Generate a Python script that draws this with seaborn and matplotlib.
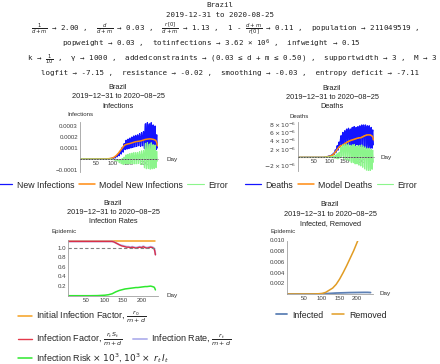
import numpy as np
import pandas as pd
import seaborn as sns
import matplotlib.pyplot as plt
from matplotlib.ticker import FixedLocator, FixedFormatter, MultipleLocator

sns.set_style("white")
plt.rcParams['font.family'] = ['Liberation Sans', 'DejaVu Sans']
plt.rcParams['mathtext.fontset'] = 'dejavusans'

country = "Brazil"
date_span = "2019-12-31 to 2020-08-25"
panel_dates = "2019\u221212\u221231 to 2020\u221208\u221225"

# daily series start at day 60 (everything before is zero)
first_day = 60
last_day = 240

# new infections per day, in 1e-6 of population
new_infections = [
    0, 0, 0, 0, 0, 0, 0, 0, 0, 0,
    0, 0, 0, 0, 0, 0, 0, 0, 1, 1,
    1, 1, 1, 2, 2, 2, 1, 2, 2, 3,
    3, 3, 4, 5, 5, 4, 3, 5, 6, 7,
    8, 9, 7, 5, 9, 11, 13, 14, 12, 9,
    17, 21, 24, 29, 25, 19, 26, 34, 40, 45,
    48, 33, 30, 52, 62, 70, 72, 57, 45, 80,
    95, 105, 100, 70, 62, 110, 130, 140, 130, 95,
    85, 135, 160, 170, 150, 110, 90, 160, 175, 180,
    160, 115, 95, 165, 185, 190, 165, 120, 100, 170,
    180, 200, 175, 125, 105, 175, 195, 210, 180, 130,
    110, 180, 200, 215, 190, 135, 115, 190, 205, 220,
    190, 140, 120, 195, 210, 230, 195, 140, 115, 200,
    215, 240, 200, 145, 120, 205, 225, 250, 210, 145,
    95, 230, 290, 320, 260, 115, 90, 240, 310, 330,
    270, 125, 95, 250, 300, 320, 260, 115, 90, 230,
    300, 330, 250, 110, 90, 220, 300, 310, 240, 110,
    90, 220, 280, 300, 220, 100, 85, 180, 220, 160,
    100,
]
model_infections = [
    0, 0, 0, 0, 0, 0, 0, 0, 0, 0,
    0, 0, 0, 0, 0, 0, 1, 1, 1, 1,
    1, 1, 1, 1, 2, 2, 2, 2, 2, 3,
    3, 3, 4, 4, 5, 5, 6, 6, 7, 8,
    9, 10, 11, 12, 13, 15, 17, 19, 21, 23,
    26, 28, 30, 33, 36, 39, 42, 45, 49, 52,
    56, 60, 64, 68, 72, 76, 80, 84, 88, 92,
    96, 100, 104, 108, 112, 116, 119, 122, 125, 127,
    129, 130, 131, 132, 133, 134, 135, 136, 137, 137,
    138, 138, 139, 139, 140, 140, 141, 142, 143, 144,
    145, 146, 147, 148, 149, 150, 151, 152, 153, 154,
    155, 156, 157, 157, 158, 158, 159, 159, 160, 160,
    160, 161, 161, 162, 162, 163, 163, 164, 164, 165,
    165, 166, 167, 168, 169, 170, 171, 172, 173, 174,
    175, 176, 177, 178, 178, 179, 179, 180, 180, 181,
    181, 181, 182, 182, 182, 183, 183, 183, 183, 182,
    182, 182, 181, 181, 180, 180, 179, 179, 178, 178,
    177, 176, 175, 173, 171, 168, 164, 158, 150, 140,
    120,
]
# deaths per day, in 1e-7 of population
deaths = [
    0, 0, 0, 0, 0, 0, 0, 0, 0, 0,
    0, 0, 0, 0, 0, 0, 0, 0, 0, 0,
    0, 0, 0, 0, 0, 0, 1, 1, 1, 1,
    1, 1, 1, 2, 1, 1, 2, 3, 3, 2,
    2, 3, 4, 4, 3, 3, 5, 5, 6, 4,
    4, 7, 9, 10, 9, 7, 8, 13, 16, 18,
    15, 12, 14, 22, 26, 28, 24, 17, 20, 30,
    34, 37, 32, 24, 28, 42, 48, 52, 44, 30,
    32, 50, 57, 60, 50, 30, 28, 52, 60, 64,
    55, 33, 28, 58, 66, 68, 60, 34, 30, 62,
    68, 70, 60, 36, 30, 62, 66, 68, 58, 32,
    28, 64, 70, 72, 60, 34, 30, 66, 72, 74,
    62, 34, 28, 66, 70, 72, 62, 35, 30, 68,
    72, 74, 62, 34, 28, 68, 74, 76, 64, 33,
    26, 70, 74, 78, 66, 33, 25, 70, 76, 78,
    66, 32, 24, 70, 76, 78, 66, 30, 22, 68,
    74, 76, 64, 30, 22, 66, 74, 76, 64, 30,
    22, 64, 70, 72, 60, 28, 22, 60, 66, 50,
    30,
]
model_deaths = [
    0, 0, 0, 0, 0, 0, 0, 0, 0, 0,
    0, 0, 0, 0, 0, 0, 0, 0, 0, 0,
    0, 0, 0, 0, 0, 0, 0, 1, 1, 1,
    1, 1, 1, 1, 1, 1, 2, 2, 2, 2,
    2, 2, 3, 3, 3, 3, 4, 4, 4, 5,
    5, 6, 6, 7, 8, 9, 10, 11, 12, 13,
    14, 15, 16, 17, 18, 19, 20, 21, 22, 23,
    24, 25, 25, 26, 27, 27, 28, 28, 28, 28,
    28, 29, 29, 30, 30, 31, 31, 32, 32, 33,
    33, 34, 34, 35, 35, 36, 36, 37, 37, 38,
    38, 38, 39, 39, 39, 40, 40, 40, 41, 41,
    41, 41, 42, 42, 42, 42, 43, 43, 43, 43,
    44, 44, 44, 44, 45, 45, 45, 45, 46, 46,
    46, 46, 46, 47, 47, 47, 47, 47, 47, 47,
    47, 48, 48, 48, 49, 49, 49, 50, 50, 51,
    51, 51, 52, 52, 52, 53, 53, 53, 53, 54,
    54, 54, 54, 54, 54, 54, 54, 54, 54, 54,
    54, 53, 53, 53, 52, 52, 51, 50, 49, 47,
    42,
]

# infection rates panel
rate_days = [0, 20, 40, 60, 80, 100, 110, 120, 125, 130, 135, 140, 145, 150, 155, 160, 165,
             170, 175, 180, 185, 190, 195, 200, 205, 210, 215, 220, 225, 230, 234, 236, 238]
infection_factor = [1.13, 1.13, 1.13, 1.13, 1.13, 1.13, 1.13, 1.13, 1.12, 1.10, 1.08, 1.06, 1.04,
                    1.03, 1.02, 1.01, 1.01, 1.00, 1.01, 1.00, 0.99, 1.00, 1.01, 1.00, 1.02, 1.00,
                    0.99, 1.00, 1.01, 1.00, 0.98, 0.94, 0.85]
infection_rate = [1.13, 1.13, 1.13, 1.13, 1.13, 1.13, 1.13, 1.13, 1.12, 1.10, 1.08, 1.06, 1.05,
                  1.04, 1.03, 1.02, 1.02, 1.01, 1.02, 1.01, 1.00, 1.01, 1.02, 1.01, 1.03, 1.01,
                  1.00, 1.01, 1.02, 1.01, 0.99, 0.95, 0.86]
infection_risk = [0, 0, 0, 0, 0.002, 0.01, 0.02, 0.04, 0.06, 0.08, 0.095, 0.11, 0.12, 0.13, 0.14,
                  0.145, 0.15, 0.155, 0.16, 0.165, 0.17, 0.17, 0.175, 0.18, 0.185, 0.19, 0.19,
                  0.195, 0.2, 0.19, 0.18, 0.16, 0.12]
initial_days = [0, 238]
initial_factor = [1.13, 1.13]

# infected / removed panel
ir_days = [0, 60, 80, 90, 100, 110, 120, 130, 140, 150, 160, 170, 180, 190, 200, 210, 220, 230, 238]
infected = [0, 0, 0.000005, 0.00001, 0.00003, 0.00006, 0.0001, 0.00014, 0.00018, 0.0002, 0.00022,
            0.00024, 0.00026, 0.00027, 0.00028, 0.00029, 0.0003, 0.0003, 0.00027]
removed = [0, 0, 0.00002, 0.00005, 0.0001, 0.0003, 0.0007, 0.0011, 0.0018, 0.0028, 0.0040, 0.0053,
           0.0067, 0.0081, 0.0097, 0.0112, 0.0128, 0.0145, 0.0160]

# tick labels
day_ticks = [50, 100, 150, 200]
inf_ticks = [-0.0001, 0.0001, 0.0002, 0.0003]
inf_tick_labels = ["\u22120.0001", "0.0001", "0.0002", "0.0003"]
death_ticks = [-2e-6, 2e-6, 4e-6, 6e-6, 8e-6]
death_tick_labels = [r"$-2\times10^{-6}$", r"$2\times10^{-6}$", r"$4\times10^{-6}$",
                     r"$6\times10^{-6}$", r"$8\times10^{-6}$"]
rate_ticks = [0.2, 0.4, 0.6, 0.8, 1.0]
rate_tick_labels = ["0.2", "0.4", "0.6", "0.8", "1.0"]
ir_ticks = [0.002, 0.004, 0.006, 0.008, 0.010]
ir_tick_labels = ["0.002", "0.004", "0.006", "0.008", "0.010"]

# build tables
days = np.arange(0, last_day + 1)
pad = [0] * first_day
daily = pd.DataFrame({
    'day': days,
    'new': np.array(pad + new_infections) * 1e-6,
    'model_new': np.array(pad + model_infections) * 1e-6,
    'deaths': np.array(pad + deaths) * 1e-7,
    'model_deaths': np.array(pad + model_deaths) * 1e-7,
})
daily['err_new'] = daily['new'] - daily['model_new']
daily['err_deaths'] = daily['deaths'] - daily['model_deaths']

rates = pd.DataFrame({'day': rate_days, 'factor': infection_factor,
                      'rate': infection_rate, 'risk': infection_risk})
initial = pd.DataFrame({'day': initial_days, 'value': initial_factor})
ir = pd.DataFrame({'day': ir_days, 'infected': infected, 'removed': removed})

W, H = 440, 364
fig = plt.figure(figsize=(W / 100, H / 100), dpi=100)


def box(left, top, right, bottom):
    return [left / W, 1 - bottom / H, (right - left) / W, (bottom - top) / H]


def style(ax, yminor, xmax=245):
    ax.set_xlim(0, xmax)
    ax.spines['left'].set_position(('data', 0))
    ax.spines['bottom'].set_position(('data', 0))
    ax.spines['top'].set_visible(False)
    ax.spines['right'].set_visible(False)
    for s in ['left', 'bottom']:
        ax.spines[s].set_color('#a0a0a0')
        ax.spines[s].set_linewidth(0.6)
    ax.tick_params(which='both', direction='in', color='#a0a0a0', labelcolor='#404040',
                   labelsize=4.4, width=0.5, pad=1.5)
    ax.tick_params(which='major', length=2.5)
    ax.tick_params(which='minor', length=1.3)
    ax.xaxis.set_major_locator(FixedLocator(day_ticks))
    ax.xaxis.set_minor_locator(MultipleLocator(10))
    ax.yaxis.set_minor_locator(MultipleLocator(yminor))
    ax.set_xlabel('')
    ax.set_ylabel('')
    ax.patch.set_alpha(0)
    ax.axhline(0, xmax=240 / xmax, color='#303030', lw=0.5, ls=(0, (2, 2)), zorder=5)


def titles(cx, cy, name, ylab, ylab_xy):
    fig.text(cx / W, 1 - cy / H, f"{country}\n{panel_dates}\n{name}", ha='center', va='center',
             fontsize=5.3, linespacing=1.45, color='#202020')
    fig.text(ylab_xy[0] / W, 1 - ylab_xy[1] / H, ylab, ha='center', va='center',
             fontsize=4.4, color='#303030')


def day_label(ax, off):
    ax.text(1 + off, 0, "Day", transform=ax.get_yaxis_transform(), ha='left', va='center',
            fontsize=4.6, color='#303030')


blue = '#1414ff'
orange = '#ff8a10'
light_green = '#8cf58c'

# top left: infections
ax1 = fig.add_axes(box(80, 121.6, 158, 172.2))
sns.lineplot(data=daily, x='day', y='new', ax=ax1, color=blue, lw=0.9, estimator=None,
             legend=False, label='New Infections')
sns.lineplot(data=daily, x='day', y='model_new', ax=ax1, color=orange, lw=1.1, estimator=None,
             legend=False, label='Model New Infections')
sns.lineplot(data=daily, x='day', y='err_new', ax=ax1, color=light_green, lw=0.8, estimator=None,
             legend=False, label='Error')
ax1.set_ylim(-0.00012, 0.00034)
style(ax1, 0.00002, xmax=242)
ax1.yaxis.set_major_locator(FixedLocator(inf_ticks))
ax1.yaxis.set_major_formatter(FixedFormatter(inf_tick_labels))
titles(118, 97, "Infections", "Infections", (80, 115))
day_label(ax1, 8 / 78)
h, l = ax1.get_legend_handles_labels()
fig.legend(h, l, loc='center', bbox_to_anchor=(112 / W, 1 - 185 / H), ncol=3, frameon=False,
           fontsize=6.3, handlelength=1.85, handletextpad=0.5, columnspacing=0.5,
           borderpad=0, borderaxespad=0)

# top right: deaths
ax2 = fig.add_axes(box(298, 121.6, 374, 171.4))
sns.lineplot(data=daily, x='day', y='deaths', ax=ax2, color=blue, lw=0.9, estimator=None,
             legend=False, label='Deaths')
sns.lineplot(data=daily, x='day', y='model_deaths', ax=ax2, color=orange, lw=1.1, estimator=None,
             legend=False, label='Model Deaths')
sns.lineplot(data=daily, x='day', y='err_deaths', ax=ax2, color=light_green, lw=0.8,
             estimator=None, legend=False, label='Error')
ax2.set_ylim(-3.4e-6, 8.6e-6)
style(ax2, 0.5e-6, xmax=242)
ax2.yaxis.set_major_locator(FixedLocator(death_ticks))
ax2.yaxis.set_major_formatter(FixedFormatter(death_tick_labels))
titles(332, 97.5, "Deaths", "Deaths", (299, 116))
day_label(ax2, 6 / 76)
h, l = ax2.get_legend_handles_labels()
fig.legend(h, l, loc='center', bbox_to_anchor=(331 / W, 1 - 185 / H), ncol=3, frameon=False,
           fontsize=6.3, handlelength=1.85, handletextpad=0.5, columnspacing=0.5,
           borderpad=0, borderaxespad=0)

# bottom left: infection rates
ax3 = fig.add_axes(box(68, 240, 158, 295.7))
sns.lineplot(data=initial, x='day', y='value', ax=ax3, color='#f5a020', lw=1.1, estimator=None,
             legend=False, label=r"Initial Infection Factor, $\frac{r_0}{m+d}$")
sns.lineplot(data=rates, x='day', y='rate', ax=ax3, color='#b8b8ee', lw=1.4, estimator=None,
             legend=False, label=r"Infection Rate, $\frac{r_t}{m+d}$")
sns.lineplot(data=rates, x='day', y='factor', ax=ax3, color='#e0162b', lw=1.0, alpha=0.85,
             estimator=None, legend=False, label=r"Infection Factor, $\frac{r_t\,S_t}{m+d}$")
sns.lineplot(data=rates, x='day', y='risk', ax=ax3, color='#2ee82e', lw=1.1, estimator=None,
             legend=False, label=r"Infection Risk $\times\ 10^3$, $10^3\times\ r_t\,I_t$")
ax3.axhline(1.0, xmax=238 / 245, color='#808080', lw=0.8, ls=(0, (3, 2)))
ax3.set_ylim(0, 1.16)
style(ax3, 0.05)
ax3.yaxis.set_major_locator(FixedLocator(rate_ticks))
ax3.yaxis.set_major_formatter(FixedFormatter(rate_tick_labels))
titles(113, 212.5, "Infection Rates", "Epidemic", (64, 231))
day_label(ax3, 8 / 90)
h, l = ax3.get_legend_handles_labels()
hd = dict(zip(l, h))
lab = [l[0], l[2], l[1], l[3]]
for labels, y in [([lab[0]], 316.7), ([lab[1], lab[2]], 339.3), ([lab[3]], 358.3)]:
    fig.legend([hd[k] for k in labels], labels, loc='center left',
               bbox_to_anchor=(18 / W, 1 - y / H), ncol=len(labels), frameon=False,
               fontsize=6.5, handlelength=1.55, handletextpad=0.45, columnspacing=1.1,
               borderpad=0, borderaxespad=0)

# bottom right: infected, removed
ax4 = fig.add_axes(box(287, 240.5, 373, 294))
sns.lineplot(data=ir, x='day', y='infected', ax=ax4, color='#5e81b5', lw=1.3, estimator=None,
             legend=False, label='Infected')
sns.lineplot(data=ir, x='day', y='removed', ax=ax4, color='#e19c24', lw=1.1, estimator=None,
             legend=False, label='Removed')
ax4.set_ylim(0, 0.0100)
style(ax4, 0.0005)
ax4.yaxis.set_major_locator(FixedLocator(ir_ticks))
ax4.yaxis.set_major_formatter(FixedFormatter(ir_tick_labels))
titles(330, 214, "Infected, Removed", "Epidemic", (283, 232))
day_label(ax4, 7 / 86)
h, l = ax4.get_legend_handles_labels()
fig.legend(h, l, loc='center', bbox_to_anchor=(331 / W, 1 - 315 / H), ncol=2, frameon=False,
           fontsize=6.3, handlelength=1.35, handletextpad=0.57, columnspacing=1.0,
           borderpad=0, borderaxespad=0)

# header
mono = dict(family='DejaVu Sans Mono', fontsize=5.4, ha='center', va='center', color='#202020')
fig.text(220 / W, 1 - 5 / H, country, **mono)
fig.text(220 / W, 1 - 15 / H, date_span, **mono)
fig.text(225 / W, 1 - 28 / H,
         r"$\frac{1}{d+m}$ → 2.00 ,  $\frac{d}{d+m}$ → 0.03 ,  $\frac{r[0]}{d+m}$ → 1.13 ,  "
         r"1 - $\frac{d+m}{r[0]}$ → 0.11 ,  population → 211049519 ,", **mono)
fig.text(211 / W, 1 - 44 / H,
         r"popweight → 0.03 ,  totinfections → 3.62 × 10$^{6}$ ,  infweight → 0.15", **mono)
fig.text(232 / W, 1 - 60 / H,
         r"k → $\frac{1}{10}$ ,  γ → 1000 ,  addedconstraints → (0.03 ≤ d + m ≤ 0.50) ,  "
         r"supportwidth → 3 ,  M → 3", **mono)
fig.text(230 / W, 1 - 73 / H,
         r"logfit → -7.15 ,  resistance → -0.02 ,  smoothing → -0.03 ,  entropy deficit → -7.11",
         **mono)

fig.savefig('out.png', dpi=100)
